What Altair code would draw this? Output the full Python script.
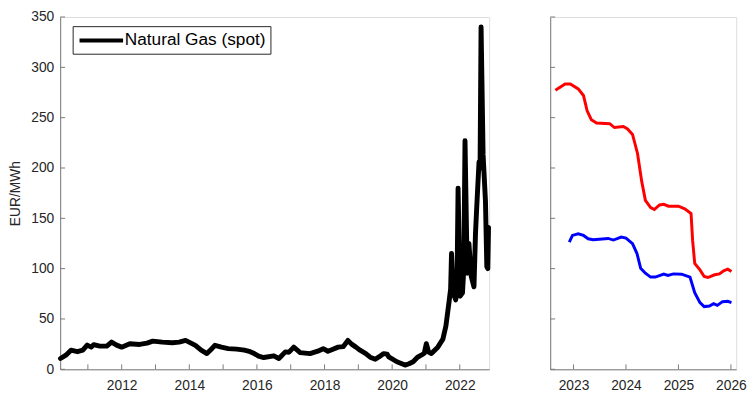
import altair as alt
import pandas as pd

# ---------------- data ----------------
spot_years = [2010.19, 2010.35, 2010.5, 2010.69, 2010.85, 2010.98, 2011.1, 2011.17, 2011.35, 2011.56,
              2011.7, 2011.85, 2012.0, 2012.24, 2012.53, 2012.75, 2012.92, 2013.2, 2013.5, 2013.7,
              2013.89, 2014.05, 2014.18, 2014.35, 2014.52, 2014.65, 2014.76, 2014.95, 2015.15, 2015.4,
              2015.63, 2015.8, 2015.92, 2016.05, 2016.2, 2016.5, 2016.65, 2016.84, 2016.95, 2017.09,
              2017.28, 2017.57, 2017.8, 2017.96, 2018.1, 2018.25, 2018.4, 2018.55, 2018.69, 2018.8,
              2018.93, 2019.05, 2019.22, 2019.35, 2019.5, 2019.62, 2019.75, 2019.85, 2019.9, 2020.14,
              2020.38, 2020.5, 2020.62, 2020.75, 2020.86, 2020.95, 2021.01, 2021.08, 2021.16, 2021.35,
              2021.5, 2021.59, 2021.69, 2021.73, 2021.756, 2021.805, 2021.88, 2021.92, 2021.95, 2022.01,
              2022.08, 2022.12, 2022.155, 2022.22, 2022.27, 2022.34, 2022.42, 2022.465, 2022.5, 2022.53,
              2022.57, 2022.6, 2022.63, 2022.69, 2022.76, 2022.80, 2022.83, 2022.85]
spot_vals = [10.7, 14, 19, 17.5, 19, 24, 22, 24.5, 23, 23,
             27, 24, 22, 25.4, 24.7, 26, 28, 27, 26.4, 27,
             28.7, 26, 23.8, 19, 15.6, 20, 23.8, 22, 20.5, 20,
             19, 17.5, 15.6, 13, 11.7, 13.4, 10.7, 17.3, 17, 22,
             16.6, 15.6, 18, 20.5, 17.9, 20, 22, 22.5, 28.7, 25,
             22, 19, 15.6, 12, 10, 12.5, 15.6, 15, 12.4, 7.5,
             4.2, 5.5, 7.5, 12, 14, 16, 25.4, 17, 15.6, 22,
             30, 43, 69, 80, 115, 76, 69, 90, 180, 72.6,
             76, 100, 227, 95.5, 125, 92, 82, 135, 160, 180,
             206, 200, 340, 213, 167, 102, 100, 141]

red_years = [2022.655, 2022.84, 2022.94, 2023.09, 2023.19, 2023.26, 2023.34, 2023.44, 2023.69, 2023.78,
             2023.95, 2024.03, 2024.125, 2024.22, 2024.30, 2024.37, 2024.47, 2024.54, 2024.64, 2024.72,
             2024.81, 2025.0, 2025.12, 2025.24, 2025.27, 2025.31, 2025.41, 2025.49, 2025.56, 2025.69,
             2025.78, 2025.87, 2025.94, 2026.01]
red_vals = [277.3, 283.5, 283.5, 278.6, 272, 256.8, 248, 244.7, 244, 240.2,
            241.2, 238.8, 233.3, 214.4, 186.7, 167.9, 160.6, 158.7, 163.3, 163.9,
            162, 162, 159.4, 154.8, 128, 105.3, 98.7, 92.2, 91.2, 93.9,
            94.8, 98, 99.4, 97.1]

blue_years = [2022.92, 2022.98, 2023.09, 2023.19, 2023.28, 2023.375, 2023.66, 2023.76, 2023.91, 2024.0,
              2024.125, 2024.21, 2024.28, 2024.37, 2024.47, 2024.56, 2024.72, 2024.80, 2024.905, 2025.06,
              2025.22, 2025.31, 2025.41, 2025.49, 2025.59, 2025.67, 2025.74, 2025.84, 2025.94, 2026.01]
blue_vals = [126.4, 133, 134.6, 133, 129.7, 128.7, 130, 128.4, 131.3, 130.3,
             124.8, 115, 100.4, 95.5, 91.6, 91.6, 94.5, 93.2, 94.8, 94.5,
             91.6, 76, 66.2, 62.3, 62.9, 65.2, 63.5, 67.2, 67.5, 66.2]

left_label_years = [2012, 2014, 2016, 2018, 2020, 2022]
left_tick_years = list(range(2011, 2023))
right_years = [2023, 2024, 2025, 2026]
y_ticks = [0, 50, 100, 150, 200, 250, 300, 350]
legend_label = "Natural Gas (spot)"

# ---------------- styling ----------------
FONT = "Liberation Sans"
TXT = "#262626"
AX = "#7a7a7a"
H = 358
WL = 436
WR = 189
TICK = 5

df_spot = pd.DataFrame({"year": spot_years, "price": spot_vals, "series": legend_label})
df_red = pd.DataFrame({"year": red_years, "price": red_vals})
df_blue = pd.DataFrame({"year": blue_years, "price": blue_vals})

ys = alt.Scale(domain=[0, 350], nice=False, zero=True)
xs_left = alt.Scale(domain=[2010.18, 2022.87], nice=False, zero=False)
xs_right = alt.Scale(domain=[2022.556, 2026.1], nice=False, zero=False)

x_axis_common = dict(ticks=False, grid=False, title=None, format="d", labelFont=FONT,
                     labelFontSize=14, labelColor=TXT, labelPadding=10, domainColor=AX,
                     labelFlush=False, labelOverlap=False)

left_line = alt.Chart(df_spot).mark_line(strokeWidth=5, strokeCap="round", strokeJoin="round").encode(
    x=alt.X("year:Q", scale=xs_left, axis=alt.Axis(values=left_label_years, **x_axis_common)),
    y=alt.Y("price:Q", scale=ys, axis=alt.Axis(values=y_ticks, ticks=False, grid=False,
                                                title="EUR/MWh", titleFont=FONT, titleFontSize=14,
                                                titleFontWeight="normal", titleColor=TXT, titlePadding=8,
                                                labelFont=FONT, labelFontSize=14, labelColor=TXT,
                                                labelPadding=6.5, domainColor=AX)),
    color=alt.Color("series:N",
                    scale=alt.Scale(domain=[legend_label], range=["black"]),
                    legend=alt.Legend(title=None, orient="none", legendX=12.7, legendY=9.3,
                                      symbolType="M-1,0H4.9", symbolSize=225, symbolStrokeWidth=4,
                                      symbolFillColor="transparent", symbolStrokeColor="black",
                                      labelFont=FONT, labelFontSize=17.5, labelColor="black",
                                      labelOffset=29, padding=5, strokeColor=TXT, fillColor="white",
                                      cornerRadius=0)),
)

left_xt = alt.Chart(pd.DataFrame({"year": left_tick_years})).mark_rule(color=AX, strokeWidth=1).encode(
    x=alt.X("year:Q", scale=xs_left), y=alt.value(H), y2=alt.value(H - TICK))
left_yt = alt.Chart(pd.DataFrame({"price": y_ticks})).mark_rule(color=AX, strokeWidth=1).encode(
    y=alt.Y("price:Q", scale=ys), x=alt.value(0), x2=alt.value(TICK))

left = alt.layer(left_line, left_xt, left_yt).properties(width=WL, height=H)

red_line = alt.Chart(df_red).mark_line(color="#ff0000", strokeWidth=3).encode(
    x=alt.X("year:Q", scale=xs_right, axis=alt.Axis(values=right_years, **x_axis_common)),
    y=alt.Y("price:Q", scale=ys, axis=alt.Axis(values=y_ticks, labels=False, ticks=False, grid=False,
                                                title=None, domainColor=AX)),
)
blue_line = alt.Chart(df_blue).mark_line(color="#0000ff", strokeWidth=3).encode(
    x=alt.X("year:Q", scale=xs_right), y=alt.Y("price:Q", scale=ys))
right_xt = alt.Chart(pd.DataFrame({"year": right_years})).mark_rule(color=AX, strokeWidth=1).encode(
    x=alt.X("year:Q", scale=xs_right), y=alt.value(H), y2=alt.value(H - TICK))
right_yt = alt.Chart(pd.DataFrame({"price": y_ticks})).mark_rule(color=AX, strokeWidth=1).encode(
    y=alt.Y("price:Q", scale=ys), x=alt.value(0), x2=alt.value(TICK))

right = alt.layer(red_line, blue_line, right_xt, right_yt).properties(width=WR, height=H)

chart = alt.hconcat(left, right, spacing=57).resolve_scale(
    x="independent", color="independent"
).properties(
    padding={"left": 0, "top": -2, "right": 0, "bottom": 0}
).configure_view(stroke=None).configure(background="white")

chart.save("out.html", embed_options={"renderer": "svg", "actions": False})
